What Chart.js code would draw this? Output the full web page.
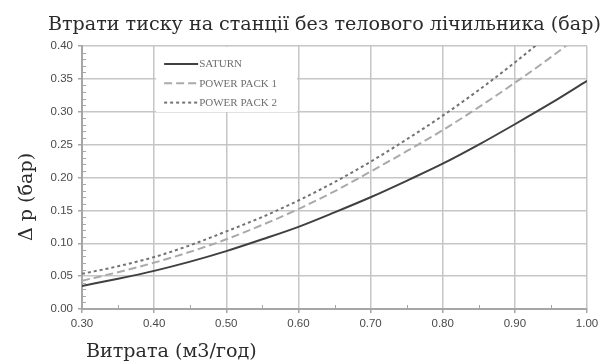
<!DOCTYPE html>
<html>
<head>
<meta charset="utf-8">
<script src="https://cdn.jsdelivr.net/npm/chart.js@4.4.1/dist/chart.umd.min.js"></script>
<style>
  html, body { margin: 0; padding: 0; background: #ffffff; }
  #wrap { width: 606px; height: 363px; position: relative; }
</style>
</head>
<body>
<div id="wrap"><canvas id="chart" width="606" height="363"></canvas></div>
<script>
// Flow rate (m3/h) and pressure loss (bar) for each pump station
const flow = [0.30, 0.35, 0.40, 0.45, 0.50, 0.55, 0.60, 0.65, 0.70, 0.75, 0.80, 0.85, 0.90, 0.95, 1.00];
const saturn = [0.035, 0.046, 0.058, 0.072, 0.088, 0.106, 0.125, 0.147, 0.170, 0.195, 0.221, 0.250, 0.281, 0.313, 0.347];
const powerPack1 = [0.043, 0.056, 0.0705, 0.087, 0.106, 0.128, 0.152, 0.179, 0.209, 0.240, 0.272, 0.307, 0.344, 0.383, 0.425];
const powerPack2 = [0.0535, 0.065, 0.079, 0.097, 0.118, 0.140, 0.165, 0.193, 0.224, 0.258, 0.294, 0.333, 0.375, 0.420, 0.467];
const seriesNames = ['SATURN', 'POWER PACK 1', 'POWER PACK 2'];

const chartTitle = 'Втрати тиску на станції без телового лічильника (бар)';
const xTitle = 'Витрата (м3/год)';
const yTitle = 'Δ p (бар)';

const SERIF_WIDE = '"DejaVu Serif", "Liberation Serif", serif';
const SERIF = '"Liberation Serif", "DejaVu Serif", serif';
const SANS = '"Liberation Sans", Arial, sans-serif';
const AXIS = '#a6a6a6';
const GRID = '#c6c6c6';

const toPoints = ys => flow.map((x, i) => ({ x, y: ys[i] }));

// Minor tick marks drawn inside the plot along both axes
const minorTicks = {
  id: 'minorTicks',
  beforeDatasetsDraw(chart) {
    const { ctx, chartArea: a, scales: { x, y } } = chart;
    ctx.save();
    ctx.strokeStyle = AXIS;
    ctx.lineWidth = 1;
    for (let v = 1; v < 40; v++) {
      if (v % 5 === 0) continue;
      const py = Math.round(y.getPixelForValue(v / 100)) + 0.5;
      ctx.beginPath();
      ctx.moveTo(a.left, py);
      ctx.lineTo(a.left + 4, py);
      ctx.stroke();
    }
    for (let v = 35; v < 100; v += 10) {
      const px = Math.round(x.getPixelForValue(v / 100)) + 0.5;
      ctx.beginPath();
      ctx.moveTo(px, a.bottom);
      ctx.lineTo(px, a.bottom - 4);
      ctx.stroke();
    }
    ctx.restore();
  }
};

// Legend box placed inside the plot area, over the grid
const insideLegend = {
  id: 'insideLegend',
  beforeDatasetsDraw(chart) {
    const { ctx, chartArea: a, scales: { x } } = chart;
    const left = x.getPixelForValue(0.40) + 2;
    const top = a.top + 1;
    ctx.save();
    ctx.fillStyle = '#ffffff';
    ctx.fillRect(left, top, 141, 65);
    chart.data.datasets.forEach((ds, i) => {
      const yy = top + 17 + i * 19.3;
      ctx.beginPath();
      ctx.setLineDash(ds.borderDash || []);
      ctx.strokeStyle = ds.borderColor;
      ctx.lineWidth = ds.borderWidth;
      ctx.moveTo(left + 8, yy);
      ctx.lineTo(left + 42, yy);
      ctx.stroke();
      ctx.setLineDash([]);
      ctx.fillStyle = '#6e6e6e';
      ctx.font = '11px ' + SERIF;
      ctx.textBaseline = 'middle';
      ctx.textAlign = 'left';
      ctx.fillText(ds.label, left + 43, yy + 0.5);
    });
    ctx.restore();
  }
};

// Chart title and axis titles in a serif face
const titles = {
  id: 'titles',
  afterDraw(chart) {
    const { ctx } = chart;
    ctx.save();
    ctx.fillStyle = '#2b2b2b';
    ctx.textBaseline = 'alphabetic';
    ctx.font = '100px ' + SERIF_WIDE;
    const size = 100 * 553 / ctx.measureText(chartTitle).width;
    ctx.font = size.toFixed(2) + 'px ' + SERIF_WIDE;
    ctx.textAlign = 'left';
    ctx.fillText(chartTitle, 48, 30);
    ctx.fillText(xTitle, 86, 357);
    ctx.translate(32, 197);
    ctx.rotate(-Math.PI / 2);
    ctx.textAlign = 'center';
    ctx.fillText(yTitle, 0, 0);
    ctx.restore();
  }
};

new Chart(document.getElementById('chart'), {
  type: 'line',
  data: {
    datasets: [
      { label: seriesNames[0], data: toPoints(saturn), borderColor: '#404040', borderWidth: 2, borderDash: [] },
      { label: seriesNames[1], data: toPoints(powerPack1), borderColor: '#aaaaaa', borderWidth: 2, borderDash: [8, 4] },
      { label: seriesNames[2], data: toPoints(powerPack2), borderColor: '#737373', borderWidth: 2, borderDash: [3, 3] }
    ]
  },
  options: {
    responsive: false,
    animation: false,
    layout: { padding: { left: 0, top: 46, right: 19, bottom: 0 } },
    elements: {
      point: { radius: 0 },
      line: { cubicInterpolationMode: 'monotone', fill: false }
    },
    plugins: {
      legend: { display: false },
      title: { display: false },
      tooltip: { enabled: false }
    },
    scales: {
      x: {
        type: 'linear',
        min: 0.30,
        max: 1.00,
        afterFit(s) { s.height = 54; s.paddingRight = 0; },
        ticks: {
          stepSize: 0.1,
          padding: 4,
          color: '#4a4a4a',
          font: { family: SANS, size: 11.5 },
          maxRotation: 0,
          callback: v => v.toFixed(2)
        },
        grid: { color: GRID, lineWidth: 1.5, tickLength: 4, tickColor: AXIS, tickWidth: 1.5 },
        border: { color: AXIS, width: 2 }
      },
      y: {
        type: 'linear',
        min: 0,
        max: 0.40,
        afterFit(s) { s.width = 82; },
        ticks: {
          stepSize: 0.05,
          padding: 5,
          color: '#4a4a4a',
          font: { family: SANS, size: 11.5 },
          callback: v => v.toFixed(2)
        },
        grid: { color: GRID, lineWidth: 1.5, tickLength: 4, tickColor: AXIS, tickWidth: 1.5 },
        border: { color: AXIS, width: 2 }
      }
    }
  },
  plugins: [minorTicks, insideLegend, titles]
});
</script>
</body>
</html>
